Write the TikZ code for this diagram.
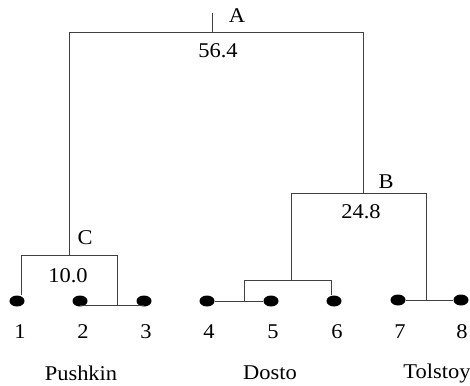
\documentclass[tikz,border=0pt]{standalone}
\usepackage{fontspec}
\usepackage{graphicx}
\setmainfont{Liberation Serif}
\usetikzlibrary{shapes.geometric}
\newcommand{\widetxt}[1]{\scalebox{1.07}[1]{#1}}
\begin{document}
\begin{tikzpicture}[x=1pt,y=-1pt,
  tree/.style={line width=0.9pt,draw=black!75},
  leaf/.style={ellipse,fill=black,inner sep=0pt,minimum width=15pt,minimum height=11pt},
  lbl/.style={font=\fontsize{21}{24}\selectfont,inner sep=0pt}]
\useasboundingbox (0,0) rectangle (470,385);
% leaves
\node[leaf] (d1) at (17,301) {};
\node[leaf] (d2) at (80,301) {};
\node[leaf] (d3) at (144,301) {};
\node[leaf] (d4) at (207,301) {};
\node[leaf] (d5) at (271,301) {};
\node[leaf] (d6) at (334,301) {};
\node[leaf] (d7) at (398,300) {};
\node[leaf] (d8) at (461,300) {};
% junction points
\coordinate (atop) at (212,13);
\coordinate (aj) at (212,32);
\coordinate (al) at (69,32);
\coordinate (ar) at (363,32);
\coordinate (cj) at (69,255);
\coordinate (cl) at (21,255);
\coordinate (cr) at (117,255);
\coordinate (bj) at (363,193);
\coordinate (bl) at (291,193);
\coordinate (br) at (426,193);
\coordinate (dj) at (291,280);
\coordinate (dl) at (244,280);
\coordinate (dr) at (331,280);
\coordinate (l2) at ([yshift=-4pt]d2.center);
\coordinate (l3) at ([yshift=-4pt]d3.center);
% tree
\draw[tree] (atop) -- (aj);
\draw[tree] (al) -- (ar);
\draw[tree] (al) -- (cj);
\draw[tree] (ar) -- (bj);
\draw[tree] (cl) -- (cr);
\draw[tree] (cl) -- (cl |- d1.north);
\draw[tree] (l2) -- (l3);
\draw[tree] (cr) -- (cr |- l3);
\draw[tree] (bl) -- (br);
\draw[tree] (bl) -- (dj);
\draw[tree] (dl) -- (dr);
\draw[tree] (dl) -- (dl |- d4);
\draw[tree] (d4) -- (d5);
\draw[tree] (dr) -- (dr |- d6.north);
\draw[tree] (br) -- (br |- d7);
\draw[tree] (d7) -- (d8);
% labels
\node[lbl] (la) at (237,16) {\widetxt{A}};
\node[lbl] (lb) at (386,182) {\widetxt{B}};
\node[lbl] (lc) at (85,238) {\widetxt{C}};
\node[lbl] (va) at (218,51) {\widetxt{56.4}};
\node[lbl] (vb) at (361,212) {\widetxt{24.8}};
\node[lbl] (vc) at (68,276) {\widetxt{10.0}};
\foreach \i/\x in {1/20,2/83,3/146,4/209,5/273,6/337,7/400,8/462}
  \node[lbl] (n\i) at (\x,332) {\widetxt{\i}};
\node[lbl] (pu) at (81,373) {\widetxt{Pushkin}};
\node[lbl] (do) at (270,373) {\widetxt{Dosto}};
\node[lbl] (to) at (437,373) {\widetxt{Tolstoy}};
\end{tikzpicture}
\end{document}
